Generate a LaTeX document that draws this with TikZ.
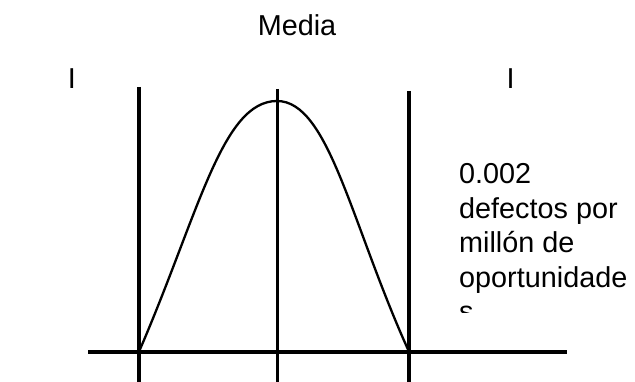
\documentclass[tikz,border=0pt]{standalone}
\usepackage{fontspec}
\setmainfont{Liberation Sans}
\begin{document}
\begin{tikzpicture}[x=1pt,y=-1pt,
  bar/.style={line width=3.6pt},
  bell/.style={line width=2.3pt},
  lbl/.style={font=\fontsize{28.8}{34.5}\selectfont, inner sep=0pt}]
\useasboundingbox (0,0) rectangle (635,382);
% axis and verticals
\coordinate (axL) at (88,351.7);
\coordinate (axR) at (567,351.7);
\coordinate (l1t) at (139,87);
\coordinate (l1b) at (139,382);
\coordinate (l2t) at (277.5,89);
\coordinate (l2b) at (277.5,382);
\coordinate (l3t) at (409,91);
\coordinate (l3b) at (409,382);
\draw[bar] (axL) -- (axR);
\draw[bar] (l1t) -- (l1b);
\draw[bar] (l2t) -- (l2b);
\draw[bar] (l3t) -- (l3b);
% curve
\coordinate (c0) at (139,351.7);
\coordinate (pk) at (277,101);
\coordinate (c1) at (409,351.7);
\draw[bell] (c0) .. controls (199,213) and (222,101) .. (pk)
               .. controls (329,101) and (351,224) .. (c1);
% labels
\node[lbl, anchor=base] (media) at (297,36) {Media};
\node[lbl, anchor=base] (iL) at (72,89) {I};
\node[lbl, anchor=base] (iR) at (510.5,89) {I};
\begin{scope}
\clip (440,0) rectangle (635,313);
\node[lbl, anchor=base west] (txt) at (459,184)
  {\vtop{\hbox{0.002}\hbox{defectos por}\hbox{millón de}\hbox{oportunidade}\hbox{s}}};
\end{scope}
\end{tikzpicture}
\end{document}
